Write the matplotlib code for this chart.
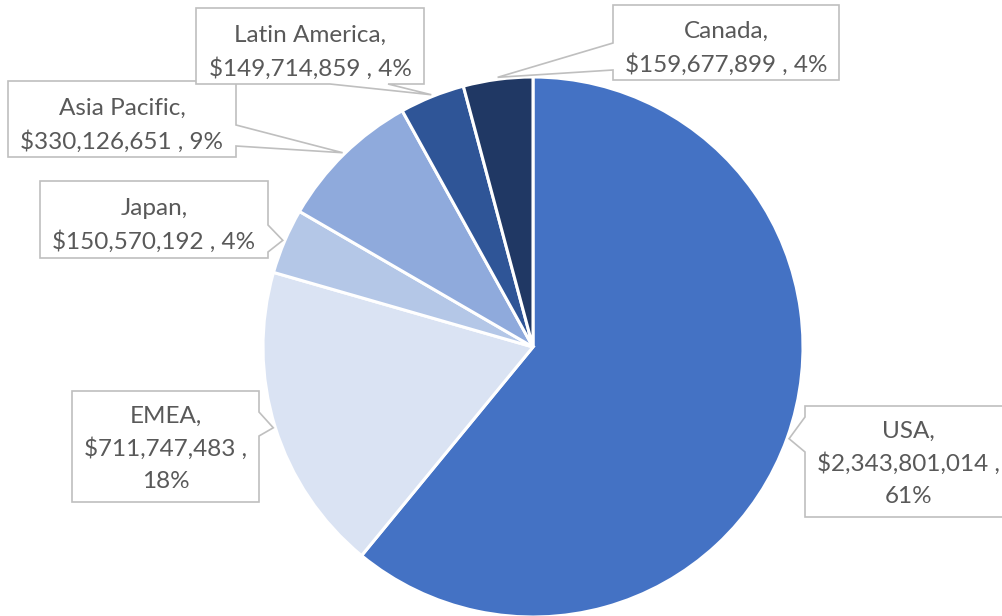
import numpy as np
import matplotlib.pyplot as plt
from matplotlib.patches import Polygon

regions = ["USA", "EMEA", "Japan", "Asia Pacific", "Latin America", "Canada"]
revenue = [2343801014, 711747483, 150570192, 330126651, 149714859, 159677899]
pct_labels = ["61%", "18%", "4%", "9%", "4%", "4%"]
colors = ["#4472C4", "#DAE3F3", "#B4C7E7", "#8FAADC", "#2F5597", "#203864"]

W, H = 1002, 616
cx, cy, R = 533, 347, 270

# label boxes in pixel coords (x0, y0, x1, y1), side the pointer leaves from,
# and where the pointer base sits along that side
boxes = {
    "USA":           ((805, 406, 1012, 517), "left",   417, 452),
    "EMEA":          ((72, 391, 259, 502),   "right",  412, 436),
    "Japan":         ((40, 181, 268, 258),   "right",  225, 252),
    "Asia Pacific":  ((8, 81, 236, 157),     "right",  125, 146),
    "Latin America": ((196, 8, 424, 84),     "bottom", 330, 388),
    "Canada":        ((613, 5, 839, 80),     "left",   43, 70),
}
text_wrap = {"USA": "USA,\n${:,} ,\n{}", "EMEA": "EMEA,\n${:,} ,\n{}"}

plt.rcParams['font.family'] = ['Lato', 'DejaVu Sans']
fig = plt.figure(figsize=(W / 100, H / 100), dpi=100)
ax = fig.add_axes([0, 0, 1, 1])

def py(y):
    return H - y

ax.pie(revenue, colors=colors, startangle=90, counterclock=False,
       center=(cx, py(cy)), radius=R, frame=True,
       wedgeprops=dict(edgecolor='white', linewidth=2.2))
ax.set_xlim(0, W)
ax.set_ylim(0, H)
ax.axis('off')

# mid-angle of each wedge, going clockwise from 12 o'clock
frac = np.array(revenue) / sum(revenue)
ends = 90 - 360 * np.cumsum(frac)
mids = ends + 180 * frac

def callout(box, side, a, b, tip):
    x0, y0, x1, y1 = box
    pts = [(x0, y0)]
    if side == "top":
        pts += [(a, y0), tip, (b, y0)]
    pts.append((x1, y0))
    if side == "right":
        pts += [(x1, a), tip, (x1, b)]
    pts.append((x1, y1))
    if side == "bottom":
        pts += [(b, y1), tip, (a, y1)]
    pts.append((x0, y1))
    if side == "left":
        pts += [(x0, b), tip, (x0, a)]
    return [(x, py(y)) for x, y in pts]

for name, val, pct, ang in zip(regions, revenue, pct_labels, mids):
    box, side, a, b = boxes[name]
    t = np.deg2rad(ang)
    tip = (cx + (R + 2) * np.cos(t), cy - (R + 2) * np.sin(t))
    ax.add_patch(Polygon(callout(box, side, a, b, tip), closed=True,
                         facecolor='white', edgecolor='#BFBFBF',
                         linewidth=1.2, zorder=3))
    fmt = text_wrap.get(name, name + ",\n${:,} , {}")
    label = fmt.format(val, pct)
    # nudge text down a touch so it sits like Office's label text
    nudge = 6 if label.count("\n") == 1 else 2
    x0, y0, x1, y1 = box
    ax.text((x0 + x1) / 2, py((y0 + y1) / 2 + nudge), label,
            ha='center', va='center', fontsize=17.5, color='#595959',
            linespacing=1.6, zorder=4)

fig.savefig('out.png', dpi=100)
